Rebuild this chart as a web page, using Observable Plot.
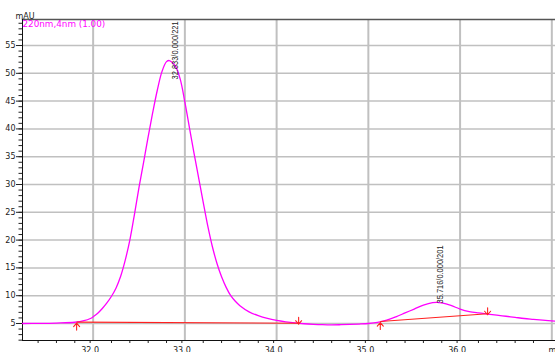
<!DOCTYPE html>
<html><head><meta charset="utf-8">
<script src="https://cdn.jsdelivr.net/npm/d3@7"></script>
<script src="https://cdn.jsdelivr.net/npm/@observablehq/plot@0.6"></script>
<style>
html,body{margin:0;padding:0;background:#fff;}
</style></head><body><div id="chart"></div>
<script>
// Chromatogram trace (min, mAU)
const time = [31.23,31.4,31.6,31.8,31.9,31.97,32.0,32.05,32.1,32.15,32.2,32.25,32.3,32.35,32.4,32.45,32.5,32.55,32.6,32.65,32.7,32.75,32.8,32.83,32.86,32.9,32.95,33.0,33.05,33.1,33.15,33.2,33.25,33.3,33.35,33.4,33.45,33.5,33.55,33.6,33.7,33.8,33.9,34.0,34.1,34.2,34.3,34.4,34.5,34.6,34.7,34.8,34.9,35.0,35.1,35.2,35.3,35.4,35.5,35.6,35.7,35.75,35.8,35.9,36.0,36.1,36.2,36.3,36.4,36.5,36.6,36.7,36.8,36.9,37.04];
const signal = [5.0,5.02,5.08,5.22,5.5,5.9,6.2,6.85,7.7,8.7,9.9,11.4,13.5,16.4,20.0,24.6,29.5,34.0,38.6,43.0,47.0,50.3,52.1,52.3,52.0,51.2,48.9,44.8,40.2,35.6,31.2,26.8,22.5,18.8,15.8,13.4,11.5,10.0,9.0,8.2,7.1,6.4,5.9,5.55,5.3,5.1,4.95,4.85,4.78,4.75,4.78,4.83,4.9,5.0,5.2,5.6,6.2,6.9,7.6,8.3,8.75,8.8,8.7,8.25,7.6,7.15,6.9,6.7,6.5,6.3,6.1,5.9,5.75,5.6,5.4];

// Integration baselines
const baseStartT = [31.82, 35.13];
const baseStartV = [5.25, 5.35];
const baseEndT = [34.24, 36.30];
const baseEndV = [5.05, 6.75];

// Peak labels
const peakTimes = [32.833, 35.716];
const peakLabels = ["32.833/0.000/221", "35.716/0.000/201"];
const labelBase = [48.9, 8.6];

// Axes
const xMajorTicks = [32, 33, 34, 35, 36];
const xTickLabels = ["32.0", "33.0", "34.0", "35.0", "36.0"];
const xGridTicks = [32, 33, 34, 35, 36, 37];
const xMinorTicks = [31.4,31.6,31.8,32.2,32.4,32.6,32.8,33.2,33.4,33.6,33.8,34.2,34.4,34.6,34.8,35.2,35.4,35.6,35.8,36.2,36.4,36.6,36.8];
const yMajorTicks = [5, 10, 15, 20, 25, 30, 35, 40, 45, 50, 55];
const yMinorTicks = d3.range(2, 60, 1);
const xDomain = [31.23, 37.04];
const yDomain = [1.94, 59.68];
const channelLabel = "220nm,4nm (1.00)";
const yUnit = "mAU";
const xUnit = "min";

const trace = time.map((t, i) => ({t, v: signal[i]}));
const segs = baseStartT.map((t, i) => ({x1: t, y1: baseStartV[i], x2: baseEndT[i], y2: baseEndV[i]}));

// arrow marker: stem plus open head
const markerArrow = {
  draw(context, l) {
    context.moveTo(0, 0);
    context.lineTo(0, -l);
    context.moveTo(-3, -l + 3.5);
    context.lineTo(0, -l);
    context.lineTo(3, -l + 3.5);
  }
};

const chart = Plot.plot({
  width: 555, height: 352,
  marginLeft: 22, marginRight: 0, marginTop: 19, marginBottom: 12,
  style: {fontFamily: "'DejaVu Sans', sans-serif", fontSize: "8px", color: "#1a1a1a", background: "#fff", overflow: "visible"},
  x: {domain: xDomain},
  y: {domain: yDomain},
  marks: [
    Plot.gridX(xGridTicks, {stroke: "#c0c0c0", strokeOpacity: 1, strokeWidth: 2}),
    Plot.gridY(yMajorTicks, {stroke: "#c0c0c0", strokeOpacity: 1, strokeWidth: 1.5}),
    Plot.frame({anchor: "top", stroke: "#555", strokeWidth: 1.5}),
    Plot.axisY(yMinorTicks, {tickSize: 3.5, text: null, label: null, stroke: "#222"}),
    Plot.axisY(yMajorTicks, {tickSize: 6, tickPadding: 1, tickFormat: d => String(d), label: null, stroke: "#222"}),
    Plot.axisX(xMinorTicks, {tickSize: 3, text: null, label: null, stroke: "#222"}),
    Plot.axisX(xMajorTicks, {tickSize: 3, tickPadding: 3.5, tickFormat: d => xTickLabels[xMajorTicks.indexOf(d)], label: null, dx: -3, stroke: "#222"}),
    Plot.frame({anchor: "left", stroke: "#111"}),
    Plot.frame({anchor: "bottom", stroke: "#111"}),
    Plot.line(trace, {x: "t", y: "v", stroke: "#ff00ff", strokeWidth: 1.3, curve: "catmull-rom"}),
    Plot.link(segs, {x1: "x1", y1: "y1", x2: "x2", y2: "y2", stroke: "#ff2020", strokeWidth: 1.1}),
    Plot.vector(baseStartT, {x: d => d, y: (d, i) => baseStartV[i], rotate: 0, length: 7, anchor: "end", shape: markerArrow, stroke: "#ff2020", strokeWidth: 1.1, dy: 1}),
    Plot.vector(baseEndT, {x: d => d, y: (d, i) => baseEndV[i], rotate: 180, length: 7, anchor: "end", shape: markerArrow, stroke: "#ff2020", strokeWidth: 1.1, dy: 1}),
    Plot.text(peakLabels, {x: (d, i) => peakTimes[i], y: (d, i) => labelBase[i], text: d => d, rotate: -90, textAnchor: "start", dx: 5.5, fontSize: 9.5, fill: "#222", fontFamily: "'Liberation Sans', Arial, sans-serif"}),
    Plot.text([channelLabel], {frameAnchor: "top-left", textAnchor: "start", lineAnchor: "top", dx: 0, dy: 1.5, fill: "#ff00ff", fontSize: 8.8}),
    Plot.text([yUnit], {frameAnchor: "top-left", textAnchor: "start", lineAnchor: "bottom", dx: -7, dy: -1, fill: "#1a1a1a", fontSize: 8}),
    Plot.text([xUnit], {frameAnchor: "bottom-right", textAnchor: "start", lineAnchor: "top", dx: -7, dy: 6.5, fill: "#1a1a1a", fontSize: 8})
  ]
});
chart.querySelectorAll("text").forEach(el => {
  if (peakLabels.includes(el.textContent)) {
    el.setAttribute("textLength", "58");
    el.setAttribute("lengthAdjust", "spacingAndGlyphs");
  }
});
document.getElementById("chart").appendChild(chart);
</script>
</body></html>
